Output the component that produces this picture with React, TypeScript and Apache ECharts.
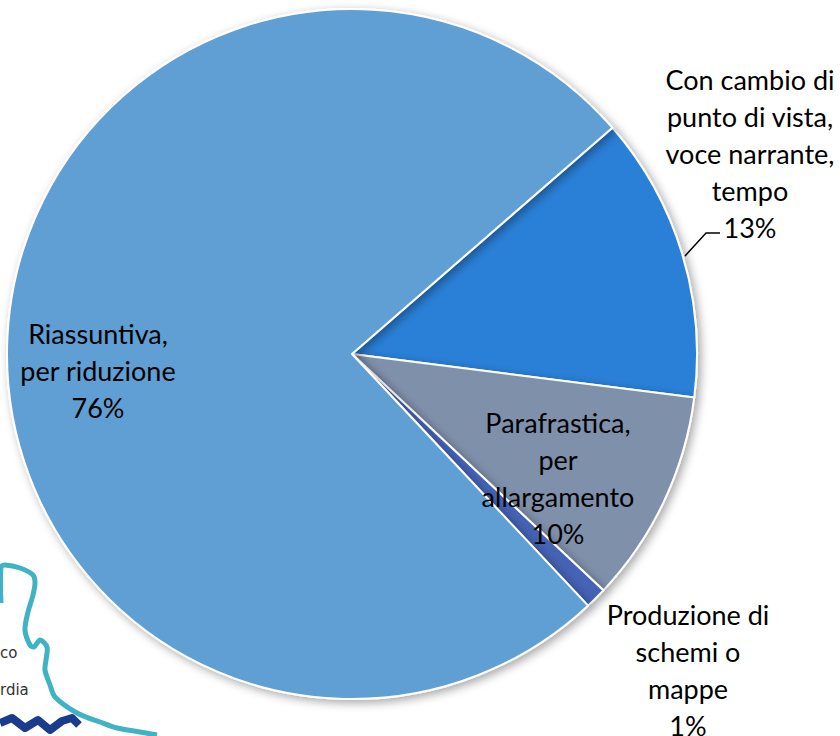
import React, { useEffect, useRef } from "react";
import * as echarts from "echarts";

const categories = [
  "Con cambio di\npunto di vista,\nvoce narrante,\ntempo",
  "Parafrastica,\nper\nallargamento",
  "Produzione di\nschemi o\nmappe",
  "Riassuntiva,\nper riduzione",
];
const values = [13.4, 10, 1, 75.6];
const colors = ["#2B7FD7", "#7F90AB", "#4462B4", "#619FD3"];

export default function App() {
  const ref = useRef<HTMLDivElement>(null);
  useEffect(() => {
    document.body.style.margin = "0";
    if (!ref.current) return;
    const chart = echarts.init(ref.current, null, { renderer: "svg" });
    const labelPos: Record<number, [number, number]> = {
      0: [750, 153],
      1: [558, 478],
      2: [688, 670],
      3: [98, 370],
    };
    const font = "Lato, 'Noto Sans', sans-serif";
    chart.setOption({
      animation: false,
      backgroundColor: "#ffffff",
      graphic: [
        {
          type: "polyline",
          z: -10,
          shape: {
            points: [
              [1, 603], [1, 567], [5, 565], [20, 568], [33, 575], [35, 583], [33, 595],
              [28, 612], [25, 630], [30, 645], [34, 647], [40, 640], [47, 647],
              [46, 660], [45, 670], [50, 685], [55, 697], [77, 713], [100, 722],
              [117, 728], [140, 732], [157, 735],
            ],
            smooth: 0.3,
          },
          style: { stroke: "#3FB2C4", lineWidth: 5, fill: null },
        },
        {
          type: "polyline",
          z: -10,
          shape: {
            points: [
              [0, 723], [12, 718], [25, 728], [38, 720], [50, 730], [62, 721], [72, 718], [79, 725],
            ],
          },
          style: { stroke: "#1B3C8C", lineWidth: 8, fill: null, lineJoin: "round" },
        },
        {
          type: "text",
          z: -10,
          x: 0,
          y: 645,
          style: { text: "co", font: "15px 'DejaVu Sans', sans-serif", fill: "#333" },
        },
        {
          type: "text",
          z: -10,
          x: 0,
          y: 682,
          style: { text: "rdia", font: "15px 'DejaVu Sans', sans-serif", fill: "#333" },
        },
      ],
      series: [
        {
          type: "pie",
          center: [352, 354],
          radius: [0, 345],
          startAngle: 41,
          clockwise: true,
          avoidLabelOverlap: false,
          z: 5,
          itemStyle: {
            borderColor: "#ffffff",
            borderWidth: 2,
            shadowBlur: 10,
            shadowColor: "rgba(0,0,0,0.35)",
            shadowOffsetX: 3,
            shadowOffsetY: 3,
          },
          label: {
            show: true,
            position: "outside",
            alignTo: "none",
            overflow: "none",
            formatter: (p: any) => `${p.name}\n${Math.round(p.percent)}%`,
            fontFamily: font,
            fontSize: 27,
            lineHeight: 37,
            color: "#000",
            align: "center",
          },
          labelLine: { show: false },
          labelLayout: (params: any) => {
            const p = labelPos[params.dataIndex];
            const out: any = {
              x: p[0],
              y: p[1],
              align: "center",
              verticalAlign: "middle",
              hideOverlap: false,
              width: 300,
            };
            if (params.dataIndex === 0) {
              out.labelLinePoints = [
                [685, 256],
                [706, 233],
                [720, 233],
              ];
            }
            return out;
          },
          data: categories.map((name, i) => ({
            name,
            value: values[i],
            itemStyle: { color: colors[i] },
            labelLine:
              i === 0
                ? { show: true, lineStyle: { color: "#000", width: 1.5 } }
                : { show: false },
          })),
        },
      ],
    });
    return () => chart.dispose();
  }, []);
  return <div ref={ref} style={{ width: 840, height: 736 }} />;
}
